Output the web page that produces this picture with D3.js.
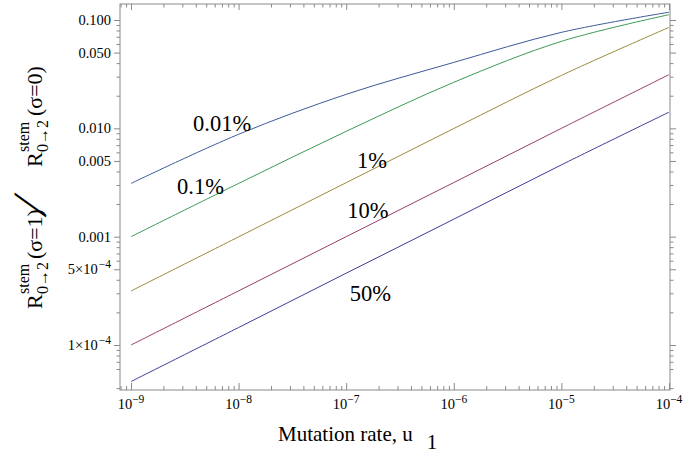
<!DOCTYPE html>
<html><head><meta charset="utf-8">
<script src="https://cdn.jsdelivr.net/npm/d3@7"></script>
<style>body{margin:0;background:#fff} svg{display:block} text{font-family:"Liberation Serif","Times New Roman",serif;fill:#000}</style>
</head><body><svg id="c" width="687" height="457"></svg>
<script>
// ---- data ----
const mutationRates = [1e-9, 1e-8, 1e-7, 1e-6, 1e-5, 1e-4];
const seriesNames = ["50%", "10%", "1%", "0.1%", "0.01%"];
const series50  = [4.6e-5, 1.45e-4, 4.6e-4, 1.45e-3, 4.6e-3, 0.0141];
const series10  = [1.0e-4, 3.16e-4, 1.0e-3, 3.16e-3, 0.0100, 0.0313];
const series1   = [3.15e-4, 9.96e-4, 3.15e-3, 9.96e-3, 0.0308, 0.0855];
const series01  = [1.0e-3, 3.1e-3, 9.38e-3, 0.0266, 0.0635, 0.112];
const series001 = [3.1e-3, 8.81e-3, 0.0206, 0.0406, 0.0769, 0.118];
const seriesColors = ["rgb(63,61,153)", "rgb(153,61,113)", "rgb(153,139,61)", "rgb(61,153,86)", "rgb(61,90,153)"];
const yTickValues = [1e-4, 5e-4, 1e-3, 5e-3, 0.01, 0.05, 0.1];
const yTickLabels = [["1\u00d710", "\u22124"], ["5\u00d710", "\u22124"], ["0.001", ""], ["0.005", ""], ["0.010", ""], ["0.050", ""], ["0.100", ""]];
const xTickValues = [1e-9, 1e-8, 1e-7, 1e-6, 1e-5, 1e-4];
const xTickExponents = ["\u22129", "\u22128", "\u22127", "\u22126", "\u22125", "\u22124"];
const curveLabels = [
  {name: "0.01%", u: 3.77e-9, v: 9.5e-3},
  {name: "0.1%",  u: 2.68e-9, v: 2.5e-3},
  {name: "1%",    u: 1.26e-7, v: 4.3e-3},
  {name: "10%",   u: 1.02e-7, v: 1.5e-3},
  {name: "50%",   u: 1.08e-7, v: 2.55e-4}
];

// ---- layout ----
const svg = d3.select("#c");
const frame = {left: 120, right: 670, top: 4, bottom: 390};
const x = d3.scaleLog().domain([1e-9, 1e-4]).range([131, 669]);
const y = d3.scaleLog().domain([1e-4, 0.1]).range([345, 20]);
const frameColor = "#8a8a8a";

const yMinor = [], xMinor = [];
for (let e = -5; e <= -1; e++) for (let m = 1; m <= 9; m++) {
  const v = m * Math.pow(10, e);
  const py = y(v);
  if (py >= frame.top && py <= frame.bottom && m !== 1 && m !== 5) yMinor.push(v);
}
for (let e = -10; e <= -4; e++) for (let m = 2; m <= 9; m++) {
  const v = m * Math.pow(10, e);
  const px = x(v);
  if (px >= frame.left && px <= frame.right) xMinor.push(v);
}

function styleAxis(g) {
  g.select(".domain").remove();
  g.selectAll(".tick line").attr("stroke", frameColor).attr("stroke-width", 1);
  g.selectAll(".tick text").remove();
}
svg.append("g").attr("transform", `translate(${frame.left},0)`)
  .call(d3.axisLeft(y).tickValues(yTickValues).tickSize(6).tickFormat("")).call(styleAxis);
svg.append("g").attr("transform", `translate(${frame.left},0)`)
  .call(d3.axisLeft(y).tickValues(yMinor).tickSize(3.5).tickFormat("")).call(styleAxis);
svg.append("g").attr("transform", `translate(${frame.right},0)`)
  .call(d3.axisRight(y).tickValues(yTickValues).tickSize(6).tickFormat("")).call(styleAxis);
svg.append("g").attr("transform", `translate(${frame.right},0)`)
  .call(d3.axisRight(y).tickValues(yMinor).tickSize(3.5).tickFormat("")).call(styleAxis);
svg.append("g").attr("transform", `translate(0,${frame.bottom})`)
  .call(d3.axisTop(x).tickValues(xTickValues).tickSize(7).tickFormat("")).call(styleAxis);
svg.append("g").attr("transform", `translate(0,${frame.bottom})`)
  .call(d3.axisTop(x).tickValues(xMinor).tickSize(4).tickFormat("")).call(styleAxis);
svg.append("g").attr("transform", `translate(0,${frame.top})`)
  .call(d3.axisBottom(x).tickValues(xTickValues).tickSize(6).tickFormat("")).call(styleAxis);
svg.append("g").attr("transform", `translate(0,${frame.top})`)
  .call(d3.axisBottom(x).tickValues(xMinor).tickSize(3.5).tickFormat("")).call(styleAxis);

svg.append("rect").attr("x", frame.left).attr("y", frame.top)
  .attr("width", frame.right - frame.left).attr("height", frame.bottom - frame.top)
  .attr("fill", "none").attr("stroke", frameColor).attr("stroke-width", 1);

yTickValues.forEach((v, i) => {
  const t = svg.append("text").attr("x", 111).attr("y", y(v) + 5)
    .attr("text-anchor", "end").style("font-size", "14.5px");
  t.append("tspan").text(yTickLabels[i][0]);
  if (yTickLabels[i][1]) t.append("tspan").attr("dx", 1).attr("dy", -6).style("font-size", "11.5px").text(yTickLabels[i][1]);
});
xTickValues.forEach((v, i) => {
  const t = svg.append("text").attr("x", x(v)).attr("y", 409)
    .attr("text-anchor", "middle").style("font-size", "14.5px");
  t.append("tspan").text("10");
  t.append("tspan").attr("dy", -6).style("font-size", "11.5px").text(xTickExponents[i]);
});

const allSeries = [series50, series10, series1, series01, series001];
const line = d3.line().x(d => x(d[0])).y(d => y(d[1])).curve(d3.curveCatmullRom.alpha(0.5));
allSeries.forEach((s, i) => {
  svg.append("path").datum(mutationRates.map((u, j) => [u, s[j]]))
    .attr("d", line).attr("fill", "none").attr("stroke", seriesColors[i]).attr("stroke-width", 1);
});

curveLabels.forEach(l => {
  svg.append("text").attr("x", x(l.u)).attr("y", y(l.v)).style("font-size", "22.5px").text(l.name);
});

const xt = svg.append("text").attr("x", 278).attr("y", 441).style("font-size", "21px");
xt.append("tspan").text("Mutation rate, u");
xt.append("tspan").attr("dx", 14).attr("dy", 8).text("1");

const yt = svg.append("g").attr("transform", "translate(42,0) rotate(-90)");
function yPiece(txt, pos, dy, size) {
  yt.append("text").attr("x", -pos).attr("y", dy).style("font-size", size + "px").text(txt);
}
yPiece("R", 309, 0, 22);
yPiece("stem", 294, -13, 16);
yPiece("0\u21922", 294, 6, 16);
yPiece("(\u03c3=1)", 259, 0, 22);
yPiece("\u2215", 209, 4, 48);
yPiece("R", 167, 0, 22);
yPiece("stem", 152, -13, 16);
yPiece("0\u21922", 152, 6, 16);
yPiece("(\u03c3=0)", 116, 0, 22);
</script></body></html>
